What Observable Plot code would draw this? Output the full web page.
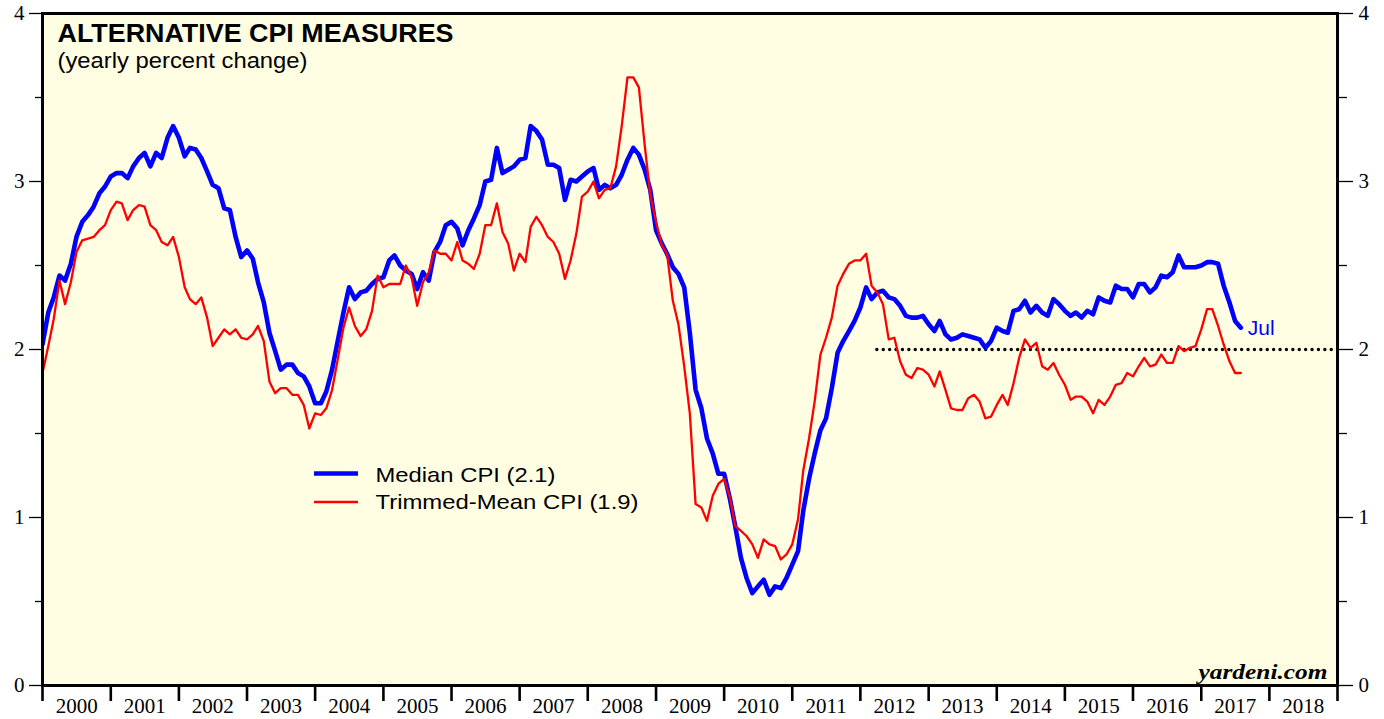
<!DOCTYPE html>
<html><head><meta charset="utf-8">
<script src="https://cdn.jsdelivr.net/npm/d3@7"></script>
<script src="https://cdn.jsdelivr.net/npm/@observablehq/plot@0.6"></script>
<style>body{margin:0;background:#fff;}#chart svg{display:block;}</style>
</head><body><div id="chart"></div>
<script>
// Monthly observations, first month = Dec 1999, last = Jul 2017
const startYear = 1999, startMonth = 12;
const median = [
2.03,2.22,2.31,2.44,2.41,2.51,2.67,2.76,2.80,2.85,2.93,2.97,
3.03,3.05,3.05,3.02,3.09,3.14,3.17,3.09,3.17,3.14,3.26,3.33,
3.26,3.15,3.20,3.19,3.14,3.06,2.98,2.96,2.84,2.83,2.67,2.55,
2.59,2.54,2.40,2.28,2.10,1.99,1.88,1.91,1.91,1.86,1.84,1.78,
1.68,1.68,1.75,1.88,2.05,2.22,2.37,2.30,2.34,2.35,2.39,2.42,
2.43,2.53,2.56,2.50,2.47,2.45,2.36,2.46,2.41,2.58,2.64,2.74,
2.76,2.72,2.62,2.71,2.78,2.86,3.00,3.01,3.20,3.05,3.07,3.09,
3.13,3.14,3.33,3.30,3.25,3.10,3.10,3.08,2.89,3.01,3.00,3.03,
3.06,3.08,2.95,2.98,2.96,2.98,3.04,3.13,3.20,3.16,3.07,2.95,
2.71,2.63,2.57,2.49,2.45,2.37,2.10,1.76,1.65,1.47,1.38,1.26,
1.26,1.11,0.95,0.76,0.64,0.55,0.59,0.63,0.54,0.59,0.58,0.64,
0.72,0.80,1.04,1.23,1.38,1.52,1.59,1.77,1.98,2.05,2.11,2.17,
2.25,2.37,2.30,2.34,2.35,2.31,2.30,2.26,2.20,2.19,2.19,2.20,
2.15,2.11,2.17,2.09,2.06,2.07,2.09,2.08,2.07,2.06,2.01,2.05,
2.13,2.11,2.10,2.23,2.24,2.29,2.22,2.26,2.22,2.20,2.30,2.27,
2.23,2.20,2.22,2.19,2.23,2.21,2.31,2.29,2.28,2.38,2.36,2.36,
2.31,2.39,2.39,2.34,2.37,2.44,2.43,2.46,2.56,2.49,2.49,2.49,
2.50,2.52,2.52,2.51,2.38,2.28,2.17,2.13
];
const trimmed = [
1.86,2.02,2.18,2.41,2.27,2.40,2.58,2.65,2.66,2.67,2.71,2.74,
2.83,2.88,2.87,2.77,2.83,2.86,2.85,2.74,2.71,2.64,2.62,2.67,
2.55,2.37,2.30,2.27,2.31,2.19,2.02,2.07,2.12,2.09,2.12,2.07,
2.06,2.09,2.14,2.05,1.81,1.74,1.77,1.77,1.73,1.73,1.67,1.53,
1.62,1.61,1.65,1.76,1.94,2.13,2.25,2.14,2.08,2.12,2.23,2.44,
2.37,2.39,2.39,2.39,2.50,2.43,2.26,2.40,2.46,2.59,2.57,2.57,
2.53,2.64,2.53,2.51,2.48,2.57,2.74,2.74,2.87,2.70,2.63,2.47,
2.57,2.52,2.73,2.79,2.74,2.67,2.64,2.57,2.42,2.53,2.69,2.91,
2.94,3.00,2.90,2.95,2.96,3.09,3.33,3.62,3.62,3.56,3.22,2.92,
2.76,2.62,2.57,2.29,2.15,1.90,1.62,1.08,1.06,0.98,1.13,1.20,
1.23,1.12,0.95,0.92,0.89,0.84,0.76,0.87,0.84,0.83,0.75,0.78,
0.84,0.99,1.28,1.47,1.69,1.97,2.07,2.19,2.38,2.45,2.51,2.53,
2.53,2.57,2.38,2.34,2.27,2.06,2.07,1.93,1.85,1.83,1.89,1.88,
1.85,1.78,1.87,1.76,1.65,1.64,1.64,1.71,1.73,1.69,1.59,1.60,
1.67,1.73,1.67,1.80,1.95,2.06,2.01,2.04,1.90,1.88,1.92,1.85,
1.79,1.70,1.72,1.72,1.69,1.62,1.70,1.67,1.72,1.79,1.80,1.86,
1.84,1.90,1.95,1.90,1.91,1.97,1.92,1.92,2.02,1.99,2.01,2.02,
2.12,2.24,2.24,2.14,2.03,1.93,1.86,1.86
];
const yearLabels = [2000,2001,2002,2003,2004,2005,2006,2007,2008,2009,2010,2011,2012,2013,2014,2015,2016,2017,2018];
const yTicks = [0,1,2,3,4];
const yMinorTicks = [0.5,1.5,2.5,3.5];
const seriesNames = ["Median CPI (2.1)", "Trimmed-Mean CPI (1.9)"];
const seriesColors = ["#0000ff", "#ff0000"];
const lastLabel = "Jul";
const targetValue = 2;
const targetStart = "2012-04";
const titleText = "ALTERNATIVE CPI MEASURES";
const subtitleText = "(yearly percent change)";
const sourceText = "yardeni.com";

// plotted at month end (= first day of following month)
const monthEnd = i => new Date(Date.UTC(startYear, startMonth + i, 1));
const medianRows = median.map((v, i) => ({date: monthEnd(i), v}));
const trimmedRows = trimmed.map((v, i) => ({date: monthEnd(i), v}));
const yearStart = y => new Date(Date.UTC(y, 0, 1));
const yearMid = y => new Date(Date.UTC(y, 6, 2));
const boundaries = yearLabels.map(yearStart).concat([yearStart(yearLabels[yearLabels.length-1] + 1)]);
const [tY, tM] = targetStart.split("-").map(Number);

const sans = "'Liberation Sans', Arial, Helvetica, sans-serif";
const serif = "'Liberation Serif', 'Times New Roman', serif";

const chart = Plot.plot({
  width: 1384, height: 719,
  marginLeft: 42, marginRight: 47, marginTop: 13, marginBottom: 34,
  x: {type: "utc", domain: [boundaries[0], boundaries[boundaries.length-1]], label: null},
  y: {domain: [0, 4], label: null},
  style: {background: "white", color: "black", fontFamily: sans, overflow: "visible"},
  marks: [
    Plot.frame({fill: "#fffee3", stroke: null}),
    Plot.axisY({anchor: "left", ticks: yTicks, tickSize: 13, tickPadding: 5, fontSize: 21, fontFamily: serif, tickFormat: d => String(d), strokeWidth: 1.3}),
    Plot.axisY({anchor: "left", ticks: yMinorTicks, tickSize: 7, tickFormat: () => "", strokeWidth: 1.3}),
    Plot.axisY({anchor: "right", ticks: yTicks, tickSize: 15, tickPadding: 6, fontSize: 21, fontFamily: serif, tickFormat: d => String(d), strokeWidth: 1.3}),
    Plot.axisY({anchor: "right", ticks: yMinorTicks, tickSize: 9, tickFormat: () => "", strokeWidth: 1.3}),
    Plot.axisX({ticks: boundaries, tickSize: 16, tickFormat: () => "", strokeWidth: 2.6}),
    Plot.axisX({ticks: yearLabels.map(yearMid), tickSize: 0, tickPadding: 13, tickFormat: d => String(d.getUTCFullYear()), fontFamily: serif, fontSize: 21}),
    Plot.ruleY([targetValue], {x1: new Date(Date.UTC(tY, tM - 1, 1)), x2: boundaries[boundaries.length-1], stroke: "black", strokeWidth: 3.4, strokeDasharray: "0,6.4", strokeLinecap: "round"}),
    Plot.line(medianRows, {x: "date", y: "v", stroke: seriesColors[0], strokeWidth: 4.6, clip: true}),
    Plot.line(trimmedRows, {x: "date", y: "v", stroke: seriesColors[1], strokeWidth: 2.3, clip: true}),
    Plot.text([medianRows[medianRows.length-1]], {x: "date", y: "v", text: () => lastLabel, dx: 7, dy: 1, textAnchor: "start", fill: seriesColors[0], fontSize: 21}),
    Plot.text([titleText], {frameAnchor: "top-left", dx: 15, dy: 11, fontSize: 25, fontWeight: "bold", textAnchor: "start", lineAnchor: "top", fill: "black"}),
    Plot.text([subtitleText], {frameAnchor: "top-left", dx: 15, dy: 38.5, fontSize: 22, textAnchor: "start", lineAnchor: "top", fill: "black"}),
    Plot.text([seriesNames[0]], {frameAnchor: "top-left", dx: 333, dy: 462, fontSize: 21, textAnchor: "start", lineAnchor: "middle", fill: "black"}),
    Plot.text([seriesNames[1]], {frameAnchor: "top-left", dx: 333, dy: 489, fontSize: 21, textAnchor: "start", lineAnchor: "middle", fill: "black"}),
    Plot.text([sourceText], {frameAnchor: "bottom-right", dx: -10, dy: -7, fontSize: 22, fontStyle: "italic", fontWeight: "bold", fontFamily: serif, textAnchor: "end", lineAnchor: "bottom", fill: "black"}),
    Plot.frame({stroke: "black", strokeWidth: 3})
  ]
});

const svg = d3.select(chart);
// stretch text widths to match the reference's wider type
const widths = new Map([[titleText, 396], [subtitleText, 250], [seriesNames[0], 180], [seriesNames[1], 263], [sourceText, 129]]);
svg.selectAll("text").each(function() {
  const w = widths.get(this.textContent);
  if (w) d3.select(this).attr("textLength", w).attr("lengthAdjust", "spacingAndGlyphs");
});
// legend swatches
const legendY = [473.5, 502];
const legendW = [4.6, 2.3];
legendY.forEach((y, k) => {
  svg.append("line").attr("x1", 314).attr("x2", 358).attr("y1", y).attr("y2", y)
    .attr("stroke", seriesColors[k]).attr("stroke-width", legendW[k]);
});
document.getElementById("chart").appendChild(chart);
</script>
</body></html>
